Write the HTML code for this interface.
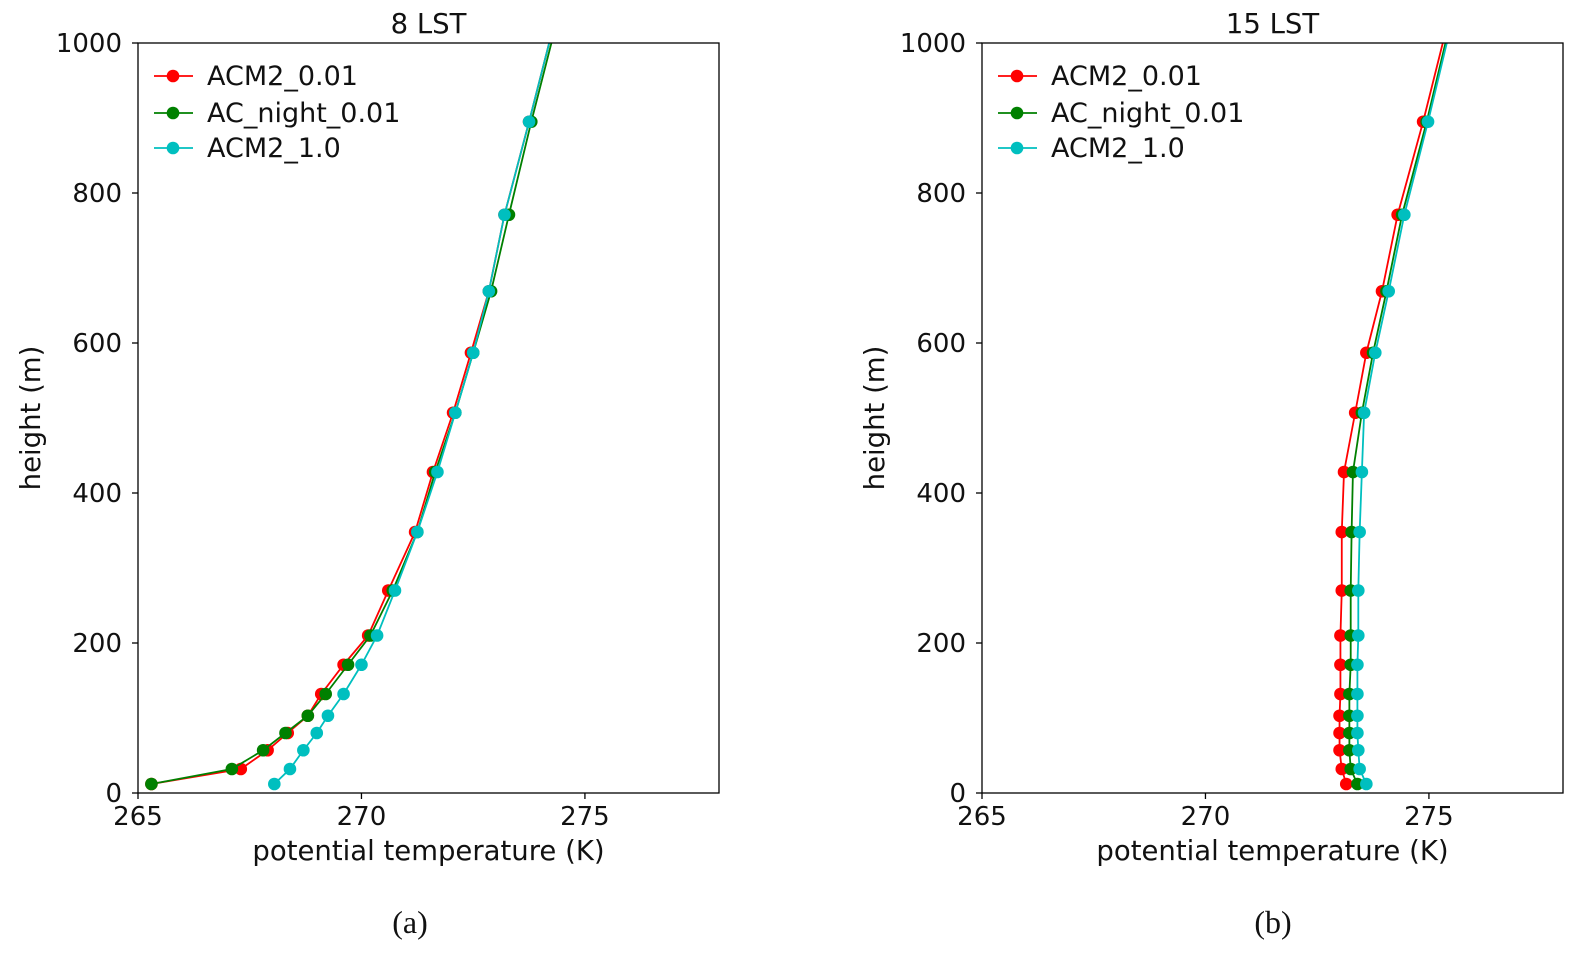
<!DOCTYPE html>
<html><head><meta charset="utf-8"><style>
html,body{margin:0;padding:0;background:#fff;width:1584px;height:953px;overflow:hidden}
svg text{font-family:"DejaVu Sans","Liberation Sans",sans-serif;fill:#111}
</style></head><body>
<svg id="fig" width="1584" height="953" xmlns="http://www.w3.org/2000/svg"></svg>
<script>
const heights=[12,32,57,80,103,132,171,210,270,348,428,507,587,669,771,895,1000];
const seriesNames=["ACM2_0.01","AC_night_0.01","ACM2_1.0"];
const seriesColors=["#ff0000","#008000","#00bfbf"];
const aRed=[265.3,267.3,267.9,268.35,268.8,269.1,269.6,270.15,270.6,271.2,271.6,272.05,272.45,272.85,273.2,273.75,274.2];
const aGreen=[265.3,267.1,267.8,268.3,268.8,269.2,269.7,270.2,270.7,271.25,271.65,272.1,272.5,272.9,273.3,273.8,274.25];
const aCyan=[268.05,268.4,268.7,269.0,269.25,269.6,270.0,270.35,270.75,271.25,271.7,272.1,272.5,272.85,273.2,273.75,274.2];
const bRed=[273.15,273.05,273.0,273.0,273.0,273.02,273.02,273.02,273.05,273.05,273.1,273.35,273.6,273.95,274.3,274.87,275.31];
const bGreen=[273.4,273.25,273.22,273.22,273.22,273.22,273.25,273.25,273.25,273.27,273.3,273.5,273.75,274.05,274.4,274.95,275.37];
const bCyan=[273.6,273.45,273.42,273.4,273.4,273.4,273.4,273.42,273.42,273.45,273.5,273.55,273.8,274.1,274.45,274.98,275.4];
const xTicks=[265,270,275];
const yTicks=[0,200,400,600,800,1000];
const panels=[
 {id:"a",left:138,title:"8 LST",caption:"(a)",capX:410,data:[aRed,aGreen,aCyan]},
 {id:"b",left:982,title:"15 LST",caption:"(b)",capX:1273,data:[bRed,bGreen,bCyan]}];
const NS="http://www.w3.org/2000/svg";
const svg=document.getElementById("fig");
function el(t,a,p){const e=document.createElementNS(NS,t);for(const k in a)e.setAttribute(k,a[k]);(p||svg).appendChild(e);return e;}
const W=581,yTop=43,yBot=793;
panels.forEach(P=>{
 const g=el("g",{});
 
 
 const xs=v=>P.left+(v-265)*W/13;
 const ys=v=>yBot-(v/1000)*(yBot-yTop);
 const clip=el("clipPath",{id:"clip"+P.id},g);
 el("rect",{x:P.left,y:yTop,width:W,height:yBot-yTop},clip);
 P.data.forEach((arr,si)=>{
  const sg=el("g",{"clip-path":"url(#clip"+P.id+")"},g);
  
  
  const pts=arr.map((v,i)=>xs(v)+","+ys(heights[i])).join(" ");
  el("polyline",{points:pts,fill:"none",stroke:seriesColors[si],"stroke-width":1.8},sg);
  arr.forEach((v,i)=>{ if(heights[i]>=1000)return;
   const c=el("circle",{cx:xs(v),cy:ys(heights[i]),r:6.3,fill:seriesColors[si]},sg);
   
   
  });
 });
 const fr=el("rect",{x:P.left,y:yTop,width:W,height:yBot-yTop,fill:"none",stroke:"#000","stroke-width":1.3},g);
 
 
 xTicks.forEach(t=>{const x=xs(t);
  el("line",{x1:x,y1:yBot,x2:x,y2:yBot+6,stroke:"#000","stroke-width":1.3},g);
  const tx=el("text",{x:x,y:825,"text-anchor":"middle","font-size":26},g);tx.textContent=t;
  
  
 });
 yTicks.forEach(t=>{const y=ys(t);
  el("line",{x1:P.left-6,y1:y,x2:P.left,y2:y,stroke:"#000","stroke-width":1.3},g);
  const tx=el("text",{x:P.left-16,y:y+9,"text-anchor":"end","font-size":26},g);tx.textContent=t;
  
  
 });
 const tt=el("text",{x:P.left+W/2,y:33,"text-anchor":"middle","font-size":27.5},g);tt.textContent=P.title;
 
 
 const xl=el("text",{x:P.left+W/2,y:860,"text-anchor":"middle","font-size":27.5},g);xl.textContent="potential temperature (K)";
 
 
 const yl=el("text",{x:0,y:0,"text-anchor":"middle","font-size":27.5,transform:"translate("+(P.left-98)+","+(yTop+(yBot-yTop)/2)+") rotate(-90)"},g);yl.textContent="height (m)";
 
 
 const ly=[76,113,148];
 seriesNames.forEach((n,i)=>{const y=ly[i];
  const lg=el("g",{},g);
  
  
  el("line",{x1:P.left+16,y1:y,x2:P.left+55,y2:y,stroke:seriesColors[i],"stroke-width":1.8},lg);
  el("circle",{cx:P.left+35,cy:y,r:6.3,fill:seriesColors[i]},lg);
  const t=el("text",{x:P.left+69,y:y+9,"font-size":27},lg);t.textContent=n;
 });
 const cap=el("text",{x:P.capX,y:933,"text-anchor":"middle","font-size":32,style:"font-family:'Liberation Serif',serif"},g);cap.textContent=P.caption;
 
 
});
</script>
</body></html>
